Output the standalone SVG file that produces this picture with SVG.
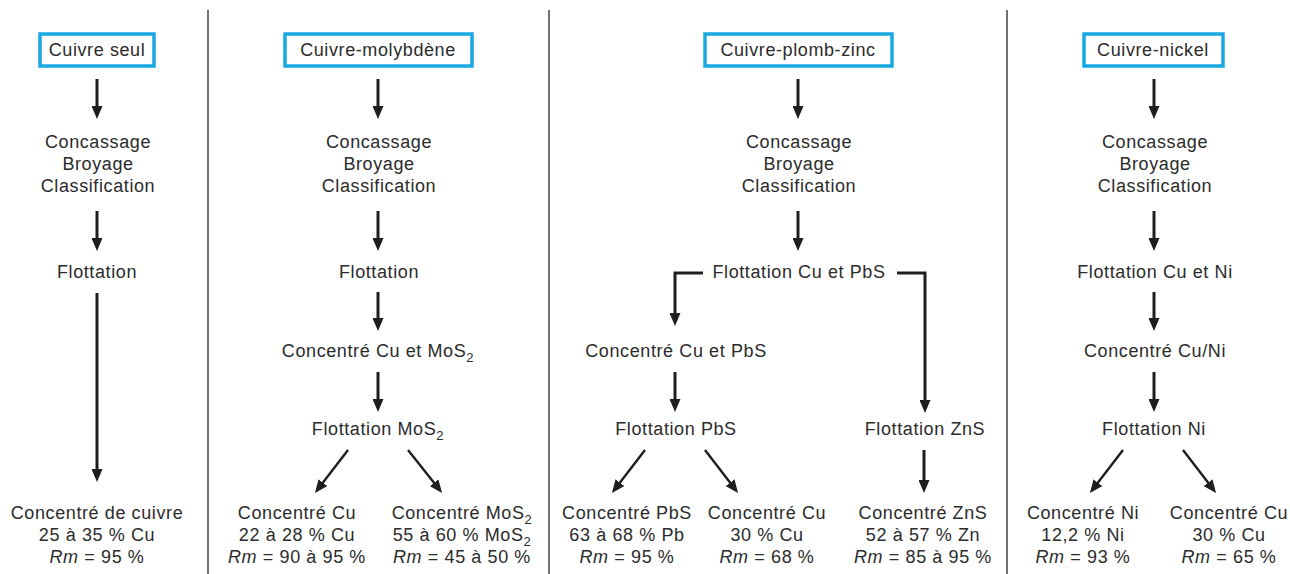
<svg xmlns="http://www.w3.org/2000/svg" width="1290" height="574" viewBox="0 0 1290 574">
<style>
text{font-family:"Liberation Sans",Arial,sans-serif;font-size:18px;fill:#2b2b2b;text-anchor:middle;letter-spacing:0.6px}
.box{fill:#fff;stroke:#18a9e2;stroke-width:3.5}
.div{stroke:#444;stroke-width:1.5}
.a{stroke:#1e1e1e;stroke-width:3;fill:none;marker-end:url(#ah)}
.d{stroke:#1e1e1e;stroke-width:2.4;fill:none;marker-end:url(#ah)}
.i{font-style:italic}
.s{font-size:13px}
</style>
<defs>
<marker id="ah" markerUnits="userSpaceOnUse" markerWidth="13" markerHeight="11" refX="8" refY="5.5" orient="auto" viewBox="0 0 13 11">
<path d="M0,0 L13,5.5 L0,11 Z" fill="#1e1e1e"/>
</marker>
</defs>
<rect width="1290" height="574" fill="#fff"/>
<g id="dividers">
<line class="div" x1="208" y1="10" x2="208" y2="574"/>
<line class="div" x1="549" y1="10" x2="549" y2="574"/>
<line class="div" x1="1007" y1="10" x2="1007" y2="574"/>
</g>
<g id="connectors">
<!-- col1 -->
<line class="a" x1="97" y1="79" x2="97" y2="114"/>
<line class="a" x1="97" y1="211" x2="97" y2="246"/>
<line class="a" x1="97" y1="293" x2="97" y2="477"/>
<!-- col2 -->
<line class="a" x1="378" y1="79" x2="378" y2="114"/>
<line class="a" x1="378" y1="211" x2="378" y2="246"/>
<line class="a" x1="378" y1="292" x2="378" y2="326"/>
<line class="a" x1="378" y1="372" x2="378" y2="407"/>
<line class="d" x1="348" y1="450" x2="318" y2="489"/>
<line class="d" x1="408" y1="450" x2="439" y2="489"/>
<!-- col3 -->
<line class="a" x1="798" y1="79" x2="798" y2="114"/>
<line class="a" x1="798" y1="211" x2="798" y2="246"/>
<polyline class="a" points="703,273 675,273 675,321"/>
<polyline class="a" points="897,273 925,273 925,408"/>
<line class="a" x1="675" y1="372" x2="675" y2="407"/>
<line class="d" x1="645" y1="450" x2="615" y2="489"/>
<line class="d" x1="705" y1="450" x2="735" y2="489"/>
<line class="a" x1="924" y1="450" x2="924" y2="488"/>
<!-- col4 -->
<line class="a" x1="1154" y1="79" x2="1154" y2="114"/>
<line class="a" x1="1154" y1="211" x2="1154" y2="246"/>
<line class="a" x1="1154" y1="292" x2="1154" y2="326"/>
<line class="a" x1="1154" y1="372" x2="1154" y2="407"/>
<line class="d" x1="1123" y1="450" x2="1093" y2="489"/>
<line class="d" x1="1183" y1="450" x2="1213" y2="489"/>
</g>
<!-- column 1 -->
<g id="n-cuivre-seul"><rect class="box" x="40" y="34" width="114" height="32"/><text x="97" y="56">Cuivre seul</text></g>
<g id="n1-broyage"><text x="98" y="148">Concassage</text><text x="98" y="170">Broyage</text><text x="98" y="192">Classification</text></g>
<g id="n1-flottation"><text x="97" y="278">Flottation</text></g>
<g id="n1-concentre"><text x="97" y="519">Concentré de cuivre</text><text x="97" y="541">25 à 35 % Cu</text><text x="97" y="563"><tspan class="i">Rm</tspan> = 95 %</text></g>
<!-- column 2 -->
<g id="n-cuivre-molybdene"><rect class="box" x="285" y="34" width="187" height="32"/><text x="378" y="56">Cuivre-molybdène</text></g>
<g id="n2-broyage"><text x="379" y="148">Concassage</text><text x="379" y="170">Broyage</text><text x="379" y="192">Classification</text></g>
<g id="n2-flottation"><text x="379" y="278">Flottation</text></g>
<g id="n2-conc-cu-mos2"><text x="378" y="357">Concentré Cu et MoS<tspan class="s" dy="5">2</tspan></text></g>
<g id="n2-flottation-mos2"><text x="378" y="435">Flottation MoS<tspan class="s" dy="5">2</tspan></text></g>
<g id="n2-conc-cu"><text x="297" y="519">Concentré Cu</text><text x="297" y="541">22 à 28 % Cu</text><text x="297" y="563"><tspan class="i">Rm</tspan> = 90 à 95 %</text></g>
<g id="n2-conc-mos2"><text x="462" y="519">Concentré MoS<tspan class="s" dy="5">2</tspan></text><text x="462" y="541">55 à 60 % MoS<tspan class="s" dy="5">2</tspan></text><text x="462" y="563"><tspan class="i">Rm</tspan> = 45 à 50 %</text></g>
<!-- column 3 -->
<g id="n-cuivre-plomb-zinc"><rect class="box" x="705" y="34" width="187" height="32"/><text x="798" y="56">Cuivre-plomb-zinc</text></g>
<g id="n3-broyage"><text x="799" y="148">Concassage</text><text x="799" y="170">Broyage</text><text x="799" y="192">Classification</text></g>
<g id="n3-flottation"><text x="799" y="278">Flottation Cu et PbS</text></g>
<g id="n3-conc-cu-pbs"><text x="676" y="357">Concentré Cu et PbS</text></g>
<g id="n3-flottation-pbs"><text x="676" y="435">Flottation PbS</text></g>
<g id="n3-flottation-zns"><text x="925" y="435">Flottation ZnS</text></g>
<g id="n3-conc-pbs"><text x="627" y="519">Concentré PbS</text><text x="627" y="541">63 à 68 % Pb</text><text x="627" y="563"><tspan class="i">Rm</tspan> = 95 %</text></g>
<g id="n3-conc-cu"><text x="767" y="519">Concentré Cu</text><text x="767" y="541">30 % Cu</text><text x="767" y="563"><tspan class="i">Rm</tspan> = 68 %</text></g>
<g id="n3-conc-zns"><text x="923" y="519">Concentré ZnS</text><text x="923" y="541">52 à 57 % Zn</text><text x="923" y="563"><tspan class="i">Rm</tspan> = 85 à 95 %</text></g>
<!-- column 4 -->
<g id="n-cuivre-nickel"><rect class="box" x="1084" y="34" width="139" height="32"/><text x="1153" y="56">Cuivre-nickel</text></g>
<g id="n4-broyage"><text x="1155" y="148">Concassage</text><text x="1155" y="170">Broyage</text><text x="1155" y="192">Classification</text></g>
<g id="n4-flottation"><text x="1155" y="278">Flottation Cu et Ni</text></g>
<g id="n4-conc-cu-ni"><text x="1155" y="357">Concentré Cu/Ni</text></g>
<g id="n4-flottation-ni"><text x="1154" y="435">Flottation Ni</text></g>
<g id="n4-conc-ni"><text x="1083" y="519">Concentré Ni</text><text x="1083" y="541">12,2 % Ni</text><text x="1083" y="563"><tspan class="i">Rm</tspan> = 93 %</text></g>
<g id="n4-conc-cu"><text x="1229" y="519">Concentré Cu</text><text x="1229" y="541">30 % Cu</text><text x="1229" y="563"><tspan class="i">Rm</tspan> = 65 %</text></g>
</svg>
